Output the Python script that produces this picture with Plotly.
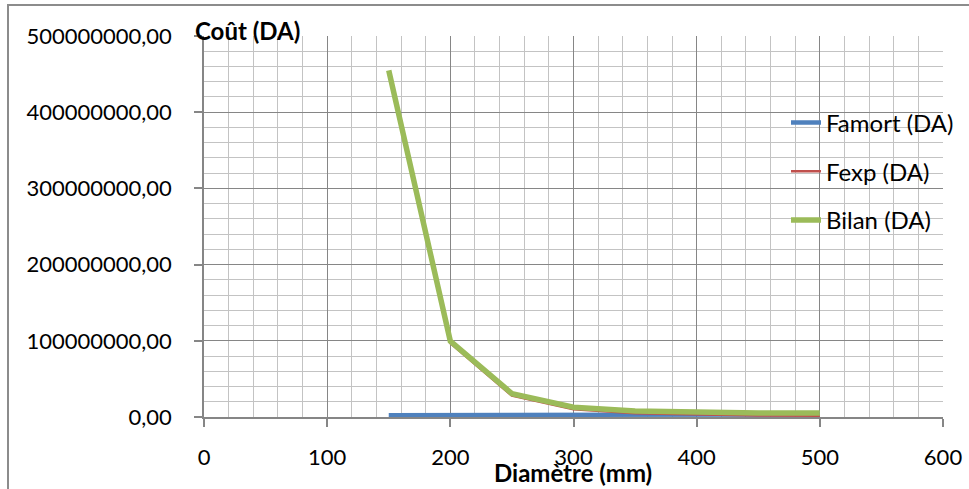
import plotly.graph_objects as go

diametre = [150, 200, 250, 300, 350, 400, 450, 500]
famort = [2.4e6, 2.5e6, 2.7e6, 2.8e6, 3.0e6, 3.2e6, 3.4e6, 3.6e6]
fexp = [452.5e6, 97.0e6, 28.0e6, 10.0e6, 5.0e6, 3.0e6, 2.0e6, 1.7e6]
bilan = [455.0e6, 99.5e6, 30.7e6, 12.8e6, 8.0e6, 6.2e6, 5.4e6, 5.3e6]

x_ticks = [0, 100, 200, 300, 400, 500, 600]
y_ticks = [0, 100e6, 200e6, 300e6, 400e6, 500e6]

FONT = "Lato"
W, H = 969, 489
L, R, T, B = 204, 943, 36, 417
pw, ph = R - L, B - T

def px(xp):
    return (xp - L) / pw

def py(yp):
    return (B - yp) / ph

fig = go.Figure()
fig.add_trace(go.Scatter(x=diametre, y=famort, mode="lines", name="Famort (DA)",
                         line=dict(color="#4F81BD", width=4.5), legendgroup="a"))
fig.add_trace(go.Scatter(x=diametre, y=fexp, mode="lines", name="Fexp (DA)",
                         line=dict(color="#C0504D", width=2.5), legendgroup="b"))
fig.add_trace(go.Scatter(x=diametre, y=bilan, mode="lines", name="Bilan (DA)",
                         line=dict(color="#9BBB59", width=5.5), legendgroup="c"))

axis_common = dict(
    showline=True, linecolor="#868686", linewidth=1.5,
    gridcolor="#868686", gridwidth=1.2,
    ticks="outside", ticklen=8, tickcolor="#868686", tickwidth=1.5,
    tickfont=dict(family=FONT, size=22, color="#000000"),
    zeroline=False, mirror=False, automargin=False,
)

fig.update_xaxes(range=[0, 600], tickvals=x_ticks, ticktext=[str(v) for v in x_ticks],
                 minor=dict(dtick=20, showgrid=True, gridcolor="#c3c3c3", gridwidth=1.2, ticks=""),
                 ticklabelstandoff=12, **axis_common)
fig.update_yaxes(range=[0, 500e6], tickvals=y_ticks, tickformat=".2f",
                 minor=dict(dtick=20e6, showgrid=True, gridcolor="#c3c3c3", gridwidth=1.2, ticks=""),
                 ticklabelstandoff=18, **axis_common)

fig.update_layout(
    width=W, height=H,
    margin=dict(l=L, r=W - R, t=T, b=H - B, pad=0, autoexpand=False),
    paper_bgcolor="white", plot_bgcolor="white",
    separators=", ",
    font=dict(family=FONT, size=22, color="#000000"),
    showlegend=True,
    legend=dict(x=px(786), y=py(100.5), xanchor="left", yanchor="top",
                bgcolor="rgba(0,0,0,0)", traceorder="grouped", tracegroupgap=14.5,
                font=dict(family=FONT, size=24, color="#000000")),
    annotations=[
        dict(text="<b>Coût (DA)</b>", x=px(247), y=py(30), xref="paper", yref="paper",
             xanchor="center", yanchor="middle",
             showarrow=False, font=dict(family=FONT, size=24, color="#000000")),
        dict(text="<b>Diamètre (mm)</b>", x=px(573), y=py(472), xref="paper", yref="paper",
             xanchor="center", yanchor="middle",
             showarrow=False, font=dict(family=FONT, size=24, color="#000000")),
    ],
    shapes=[
        dict(type="rect", xref="paper", yref="paper", x0=px(8), x1=px(1000), y0=py(520), y1=py(5),
             line=dict(color="#8c8c8c", width=2), fillcolor="rgba(0,0,0,0)", layer="below"),
    ],
)

fig.write_html("out.html")
